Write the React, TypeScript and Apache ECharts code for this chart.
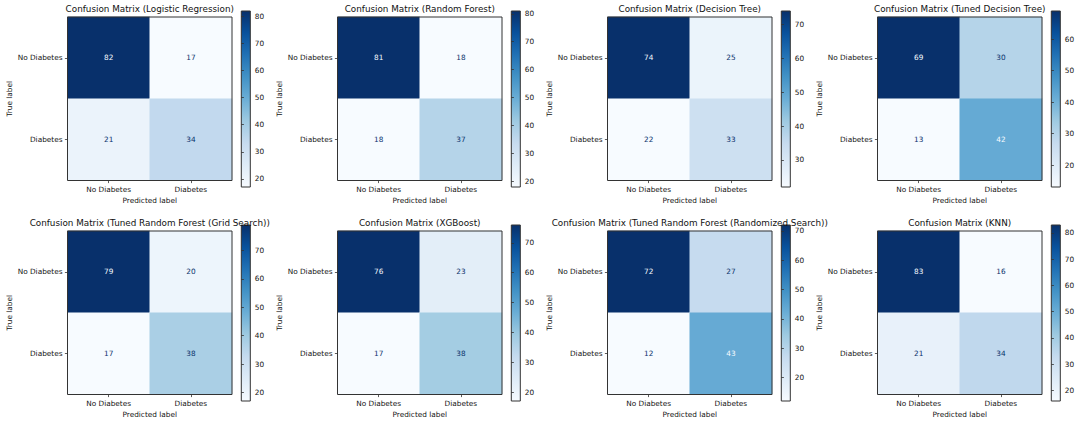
import React, { useEffect, useRef } from "react";
import * as echarts from "echarts";

// ---- data ----
const classLabels = ["No Diabetes", "Diabetes"];
const titles = [
  "Confusion Matrix (Logistic Regression)",
  "Confusion Matrix (Random Forest)",
  "Confusion Matrix (Decision Tree)",
  "Confusion Matrix (Tuned Decision Tree)",
  "Confusion Matrix (Tuned Random Forest (Grid Search))",
  "Confusion Matrix (XGBoost)",
  "Confusion Matrix (Tuned Random Forest (Randomized Search))",
  "Confusion Matrix (KNN)",
];
// rows = true label, cols = predicted label
const logisticRegression = [[82, 17], [21, 34]];
const randomForest = [[81, 18], [18, 37]];
const decisionTree = [[74, 25], [22, 33]];
const tunedDecisionTree = [[69, 30], [13, 42]];
const tunedRFGrid = [[79, 20], [17, 38]];
const xgboost = [[76, 23], [17, 38]];
const tunedRFRandom = [[72, 27], [12, 43]];
const knn = [[83, 16], [21, 34]];
const matrices = [logisticRegression, randomForest, decisionTree, tunedDecisionTree, tunedRFGrid, xgboost, tunedRFRandom, knn];

const colorbarTicks = [
  [20, 30, 40, 50, 60, 70, 80],
  [20, 30, 40, 50, 60, 70, 80],
  [30, 40, 50, 60, 70],
  [20, 30, 40, 50, 60],
  [20, 30, 40, 50, 60, 70],
  [20, 30, 40, 50, 60, 70],
  [20, 30, 40, 50, 60, 70],
  [20, 30, 40, 50, 60, 70, 80],
];

// ---- style ----
const BLUES = ["#f7fbff", "#deebf7", "#c6dbef", "#9ecae1", "#6baed6", "#4292c6", "#2171b5", "#08519c", "#08306b"];
const FONT = "DejaVu Sans";
const TICK_FS = 7.33;
const TITLE_FS = 8.8;
const TEXT = "#111";
const SPINE = "#333";

const COL_DX = 270;
const HM_LEFT = 67.5;
const HM_W = 164.5;
const HM_H = 163.5;
const HM_TOPS = [17, 231];
const CB_LEFT = 241.3;
const CB_W = 9;
const CB_TOPS = [11, 225];
const CB_H = 176;

function buildOption() {
  const grid: any[] = [];
  const xAxis: any[] = [];
  const yAxis: any[] = [];
  const series: any[] = [];
  const visualMap: any[] = [];
  const graphic: any[] = [];

  matrices.forEach((m, i) => {
    const row = Math.floor(i / 4);
    const col = i % 4;
    const flat = [m[0][0], m[0][1], m[1][0], m[1][1]];
    const vmin = Math.min(...flat);
    const vmax = Math.max(...flat);
    const thresh = (vmin + vmax) / 2;
    const hmLeft = HM_LEFT + col * COL_DX;
    const hmTop = HM_TOPS[row];
    const cbLeft = CB_LEFT + col * COL_DX;
    const cbTop = CB_TOPS[row];

    // heatmap grid
    const gHm = grid.length;
    grid.push({
      left: hmLeft, top: hmTop, width: HM_W, height: HM_H,
      show: true, borderColor: SPINE, borderWidth: 1, backgroundColor: "transparent", z: 5,
    });
    xAxis.push({
      type: "category", gridIndex: gHm, data: classLabels, position: "bottom",
      axisLine: { show: false },
      axisTick: { show: true, alignWithLabel: true, length: 2.6, lineStyle: { color: SPINE, width: 0.8 } },
      axisLabel: { fontSize: TICK_FS, fontFamily: FONT, color: TEXT, margin: 5 },
      splitLine: { show: false },
    });
    yAxis.push({
      type: "category", gridIndex: gHm, data: classLabels, inverse: true,
      axisLine: { show: false },
      axisTick: { show: true, alignWithLabel: true, length: 2.6, lineStyle: { color: SPINE, width: 0.8 } },
      axisLabel: { fontSize: TICK_FS, fontFamily: FONT, color: TEXT, margin: 5 },
      splitLine: { show: false },
    });
    const data: any[] = [];
    m.forEach((r, yi) => r.forEach((v, xi) => {
      data.push({
        value: [xi, yi, v],
        label: { color: v < thresh ? BLUES[8] : BLUES[0] },
      });
    }));
    const sIdx = series.length;
    series.push({
      type: "heatmap", xAxisIndex: gHm, yAxisIndex: gHm, data,
      label: { show: true, fontSize: TICK_FS, fontFamily: FONT },
      itemStyle: { borderWidth: 0 },
      emphasis: { disabled: true },
    });
    visualMap.push({
      type: "continuous", show: false, seriesIndex: sIdx, dimension: 2,
      min: vmin, max: vmax, inRange: { color: BLUES },
    });

    // colorbar grid
    const gCb = grid.length;
    grid.push({
      left: cbLeft, top: cbTop, width: CB_W, height: CB_H,
      show: true, borderColor: SPINE, borderWidth: 1,
      backgroundColor: new echarts.graphic.LinearGradient(0, 1, 0, 0,
        BLUES.map((c, k) => ({ offset: k / (BLUES.length - 1), color: c }))),
    });
    xAxis.push({ type: "value", gridIndex: gCb, min: 0, max: 1, show: false });
    yAxis.push({
      type: "value", gridIndex: gCb, min: vmin, max: vmax, position: "right",
      axisLine: { show: false },
      splitLine: { show: false },
      axisTick: { show: true, length: 2.6, lineStyle: { color: SPINE, width: 0.8 }, customValues: colorbarTicks[i] },
      axisLabel: { fontSize: TICK_FS, fontFamily: FONT, color: TEXT, margin: 4.5, customValues: colorbarTicks[i] },
    });

    // texts
    const cx = hmLeft + HM_W / 2;
    const cy = hmTop + HM_H / 2;
    graphic.push({
      type: "text", x: cx, y: hmTop - 8, z: 10,
      style: {
        text: titles[i], fontSize: TITLE_FS, fontFamily: FONT, fill: TEXT,
        align: "center", verticalAlign: "middle", textAlign: "center", textVerticalAlign: "middle",
      },
    });
    graphic.push({
      type: "text", x: cx, y: hmTop + HM_H + 19.5, z: 10,
      style: {
        text: "Predicted label", fontSize: TICK_FS, fontFamily: FONT, fill: TEXT,
        align: "center", verticalAlign: "middle", textAlign: "center", textVerticalAlign: "middle",
      },
    });
    graphic.push({
      type: "text", x: 9 + col * COL_DX, y: cy, rotation: Math.PI / 2, z: 10,
      style: {
        text: "True label", fontSize: TICK_FS, fontFamily: FONT, fill: TEXT,
        align: "center", verticalAlign: "middle", textAlign: "center", textVerticalAlign: "middle",
      },
    });
  });

  return {
    animation: false,
    backgroundColor: "#ffffff",
    textStyle: { fontFamily: FONT },
    grid, xAxis, yAxis, series, visualMap, graphic,
  };
}

export default function App() {
  const ref = useRef<HTMLDivElement>(null);
  useEffect(() => {
    if (!ref.current) return;
    const chart = echarts.init(ref.current, undefined, { renderer: "svg" });
    chart.setOption(buildOption() as any);
    return () => chart.dispose();
  }, []);
  return (
    <div
      ref={ref}
      style={{ position: "fixed", left: 0, top: 0, width: 1080, height: 424, background: "#fff" }}
    />
  );
}
